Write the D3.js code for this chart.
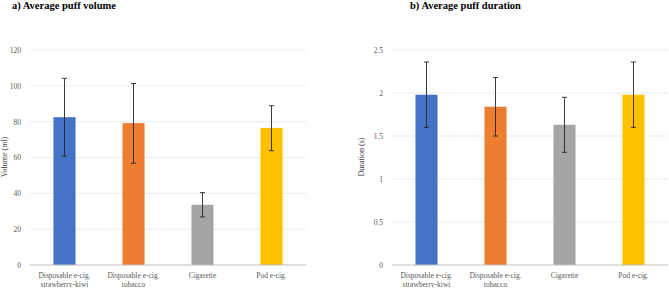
<!DOCTYPE html>
<html>
<head>
<meta charset="utf-8">
<script src="https://cdn.jsdelivr.net/npm/d3@7"></script>
<style>
  body { margin: 0; background: #fff; }
  text { font-family: "Liberation Serif", "Times New Roman", serif; }
  .tick text { fill: #595959; font-size: 7.5px; }
  .title { font-weight: bold; font-size: 10.5px; fill: #000; }
  .ylabel { font-size: 8px; fill: #404040; }
</style>
</head>
<body>
<div id="chart"></div>
<script>
const categories = ["Disposable e-cig.\nstrawberry-kiwi", "Disposable e-cig.\ntobacco", "Cigarette", "Pod e-cig."];
const colors = ["#4472C4", "#ED7D31", "#A5A5A5", "#FFC000"];

const volumeMean = [82.5, 79.2, 33.6, 76.5];
const volumeLow = [60.8, 56.8, 26.8, 63.8];
const volumeHigh = [104.2, 101.3, 40.4, 88.9];
const volumeTicks = [0, 20, 40, 60, 80, 100, 120];

const durationMean = [1.98, 1.84, 1.63, 1.98];
const durationLow = [1.60, 1.50, 1.31, 1.60];
const durationHigh = [2.36, 2.18, 1.95, 2.36];
const durationTicks = [0, 0.5, 1, 1.5, 2, 2.5];

const svg = d3.select('#chart').append('svg')
    .attr('width', 669)
    .attr('height', 288);

function drawPanel(cfg) {
    let g = svg.append('g');

    let xScale = d3.scaleBand()
        .domain(categories)
        .range([cfg.left, cfg.right])
        .paddingInner(0.68)
        .paddingOuter(0.34);
    let yScale = d3.scaleLinear()
        .domain([0, cfg.max])
        .range([265, 50]);

    // gridlines
    g.selectAll('.grid')
        .data(cfg.ticks.slice(1))
        .join('line')
        .attr('class', 'grid')
        .attr('x1', cfg.left)
        .attr('x2', cfg.right)
        .attr('y1', d => yScale(d))
        .attr('y2', d => yScale(d))
        .attr('stroke', '#e6e6e6')
        .attr('stroke-width', 0.8);

    let yAxis = d3.axisLeft(yScale)
        .tickValues(cfg.ticks)
        .tickSize(0)
        .tickPadding(cfg.pad)
        .tickFormat(d => d);
    g.append('g')
        .attr('transform', `translate(${cfg.left},0)`)
        .call(yAxis)
        .call(a => a.select('.domain').remove());

    let data = categories.map((c, i) => ({c: c, v: cfg.mean[i], lo: cfg.low[i], hi: cfg.high[i], col: colors[i]}));

    g.selectAll('.bar')
        .data(data)
        .join('rect')
        .attr('class', 'bar')
        .attr('x', d => xScale(d.c))
        .attr('width', xScale.bandwidth())
        .attr('y', d => yScale(d.v))
        .attr('height', d => yScale(0) - yScale(d.v))
        .attr('fill', d => d.col);

    // x axis baseline
    g.append('line')
        .attr('x1', cfg.left)
        .attr('x2', cfg.right)
        .attr('y1', yScale(0))
        .attr('y2', yScale(0))
        .attr('stroke', '#bfbfbf')
        .attr('stroke-width', 1);

    // error bars
    let err = g.selectAll('.err')
        .data(data)
        .join('g')
        .attr('class', 'err')
        .attr('stroke', '#262626')
        .attr('stroke-width', 0.9);
    let cx = d => xScale(d.c) + xScale.bandwidth() / 2;
    err.append('line')
        .attr('x1', cx).attr('x2', cx)
        .attr('y1', d => yScale(d.lo)).attr('y2', d => yScale(d.hi));
    err.append('line')
        .attr('x1', d => cx(d) - 2.5).attr('x2', d => cx(d) + 2.5)
        .attr('y1', d => yScale(d.hi)).attr('y2', d => yScale(d.hi));
    err.append('line')
        .attr('x1', d => cx(d) - 2.5).attr('x2', d => cx(d) + 2.5)
        .attr('y1', d => yScale(d.lo)).attr('y2', d => yScale(d.lo));

    // category labels
    let lab = g.selectAll('.cat')
        .data(categories)
        .join('text')
        .attr('class', 'cat')
        .attr('text-anchor', 'middle')
        .attr('font-size', 7.5)
        .attr('fill', '#595959');
    lab.selectAll('tspan')
        .data(d => d.split('\n').map(s => ({s: s, x: xScale(d) + xScale.bandwidth() / 2})))
        .join('tspan')
        .attr('x', d => d.x)
        .attr('y', (d, i) => 277.5 + i * 9)
        .text(d => d.s);

    g.append('text')
        .attr('class', 'ylabel')
        .attr('transform', `translate(${cfg.labelX},${157}) rotate(-90)`)
        .attr('text-anchor', 'middle')
        .text(cfg.label);

    g.append('text')
        .attr('class', 'title')
        .attr('x', cfg.titleX)
        .attr('y', 9)
        .text(cfg.title);
}

drawPanel({left: 30, right: 306, max: 120, ticks: volumeTicks, mean: volumeMean, low: volumeLow, high: volumeHigh,
    pad: 9, label: "Volume (ml)", labelX: 7, title: "a) Average puff volume", titleX: 12});
drawPanel({left: 392, right: 668, max: 2.5, ticks: durationTicks, mean: durationMean, low: durationLow, high: durationHigh,
    pad: 9, label: "Duration (s)", labelX: 364, title: "b) Average puff duration", titleX: 410});
</script>
</body>
</html>
